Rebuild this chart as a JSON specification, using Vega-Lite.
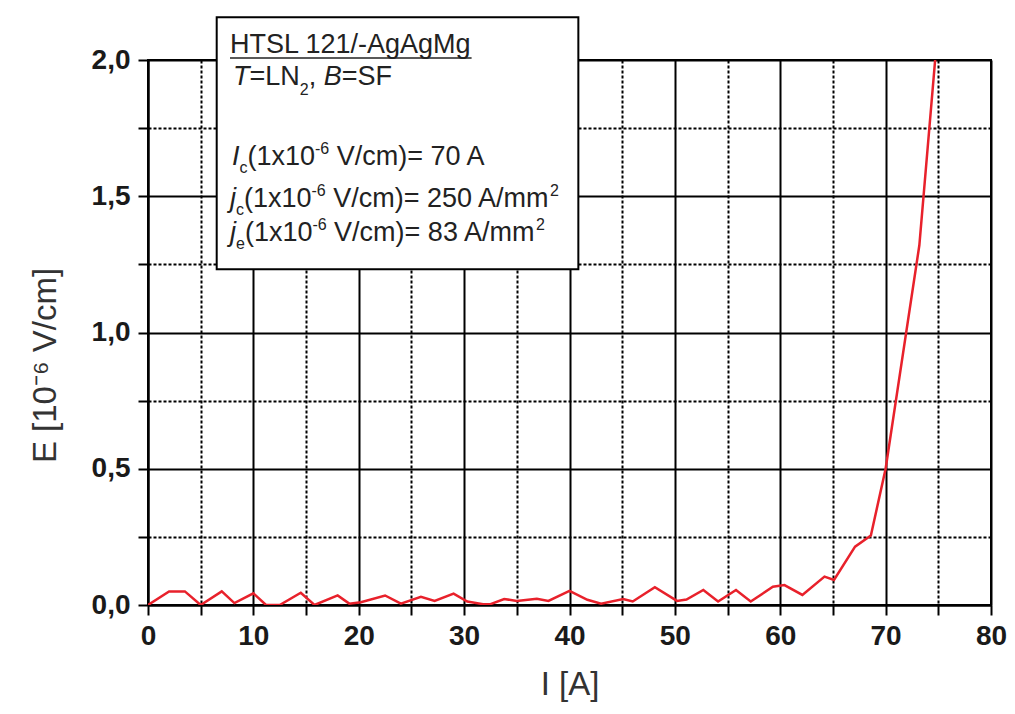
{
  "$schema": "https://vega.github.io/schema/vega-lite/v6.json",
  "width": 843,
  "height": 545,
  "autosize": {"type": "none"},
  "padding": {"left": 148, "top": 60, "right": 24, "bottom": 109},
  "background": "white",
  "config": {
    "view": {"stroke": "black", "strokeWidth": 2},
    "axis": {
      "grid": true,
      "gridColor": "black",
      "gridWidth": 2,
      "gridOpacity": 1,
      "tickColor": "black",
      "tickWidth": 2,
      "tickSize": 10,
      "domainColor": "black",
      "domainWidth": 2,
      "labelFont": "Liberation Sans",
      "labelFontWeight": "bold",
      "labelFontSize": 28,
      "labelColor": "#1a1a1a",
      "labelFlush": false,
      "labelOverlap": false,
      "titleFont": "Liberation Sans",
      "titleFontSize": 33,
      "titleFontWeight": "normal",
      "titleColor": "#333333"
    }
  },
  "datasets": {
    "curve": [
      {"I": 0, "E": 0}, {"I": 2.0, "E": 0.05}, {"I": 3.5, "E": 0.05}, {"I": 5.0, "E": 0.0},
      {"I": 7.0, "E": 0.05}, {"I": 8.2, "E": 0.007}, {"I": 10.0, "E": 0.043}, {"I": 11.2, "E": 0.0},
      {"I": 12.5, "E": 0.0}, {"I": 14.5, "E": 0.045}, {"I": 15.8, "E": 0.0}, {"I": 18.0, "E": 0.035},
      {"I": 19.1, "E": 0.005}, {"I": 20.2, "E": 0.01}, {"I": 22.5, "E": 0.035}, {"I": 24.0, "E": 0.005},
      {"I": 25.9, "E": 0.03}, {"I": 27.2, "E": 0.015}, {"I": 29.0, "E": 0.042}, {"I": 30.3, "E": 0.013},
      {"I": 31.8, "E": 0.003}, {"I": 32.5, "E": 0.003}, {"I": 33.8, "E": 0.022}, {"I": 35.0, "E": 0.015},
      {"I": 36.9, "E": 0.023}, {"I": 38.0, "E": 0.015}, {"I": 40.0, "E": 0.052}, {"I": 41.7, "E": 0.019},
      {"I": 43.0, "E": 0.005}, {"I": 45.1, "E": 0.022}, {"I": 46.0, "E": 0.013}, {"I": 48.1, "E": 0.065},
      {"I": 50.2, "E": 0.015}, {"I": 51.1, "E": 0.02}, {"I": 52.7, "E": 0.055}, {"I": 54.1, "E": 0.013},
      {"I": 55.8, "E": 0.055}, {"I": 57.2, "E": 0.013}, {"I": 59.3, "E": 0.067}, {"I": 60.4, "E": 0.073},
      {"I": 62.1, "E": 0.037}, {"I": 64.2, "E": 0.104}, {"I": 65.1, "E": 0.092}, {"I": 67.1, "E": 0.214},
      {"I": 68.6, "E": 0.255}, {"I": 70.0, "E": 0.5}, {"I": 73.2, "E": 1.32}, {"I": 74.7, "E": 2.0}
    ],
    "box": [{"I": 6.52, "I2": 40.84, "E": 2.157, "E2": 1.232}],
    "underline": [{"I": 7.782, "I2": 30.709, "E": 2.0073}],
    "tn": [
      {"I": 7.782, "E": 2.0257, "t": "HTSL 121/-AgAgMg"},
      {"I": 9.632, "E": 1.9083, "t": "=LN"},
      {"I": 15.25, "E": 1.9083, "t": ","},
      {"I": 18.382, "E": 1.9083, "t": "=SF"},
      {"I": 9.442, "E": 1.6147, "t": "(1x10"},
      {"I": 17.907, "E": 1.6147, "t": "V/cm)= 70 A"},
      {"I": 9.11, "E": 1.4606, "t": "(1x10"},
      {"I": 17.575, "E": 1.4606, "t": "V/cm)= 250 A/mm"},
      {"I": 9.196, "E": 1.3358, "t": "(1x10"},
      {"I": 17.661, "E": 1.3358, "t": "V/cm)= 83 A/mm"}
    ],
    "ti": [
      {"I": 8.066, "E": 1.9083, "t": "T"},
      {"I": 16.674, "E": 1.9083, "t": "B"},
      {"I": 7.972, "E": 1.6147, "t": "I"},
      {"I": 7.782, "E": 1.4606, "t": "j"},
      {"I": 7.782, "E": 1.3358, "t": "j"}
    ],
    "ts": [
      {"I": 14.406, "E": 1.8716, "t": "2"},
      {"I": 8.683, "E": 1.5853, "t": "c"},
      {"I": 15.848, "E": 1.655, "t": "-6"},
      {"I": 8.351, "E": 1.4312, "t": "c"},
      {"I": 15.516, "E": 1.5009, "t": "-6"},
      {"I": 38.149, "E": 1.5009, "t": "2"},
      {"I": 8.351, "E": 1.3064, "t": "e"},
      {"I": 15.601, "E": 1.3761, "t": "-6"},
      {"I": 36.811, "E": 1.3761, "t": "2"}
    ]
  },
  "layer": [
    {
      "data": {"name": "curve"},
      "mark": {"type": "line", "color": "#e8212b", "strokeWidth": 2.5, "clip": true},
      "encoding": {
        "x": {
          "field": "I", "type": "quantitative", "title": "I [A]",
          "scale": {"domain": [0, 80], "nice": false, "zero": false},
          "axis": {
            "values": [0, 5, 10, 15, 20, 25, 30, 35, 40, 45, 50, 55, 60, 65, 70, 75, 80],
            "labelExpr": "datum.value % 10 === 0 ? datum.label : ''",
            "gridDash": {"condition": {"test": "datum.value % 10 !== 0", "value": [3, 2]}, "value": []},
            "labelPadding": 7,
            "titlePadding": 18
          }
        },
        "y": {
          "field": "E", "type": "quantitative", "title": "E [10⁻⁶ V/cm]",
          "scale": {"domain": [0, 2], "nice": false, "zero": false},
          "axis": {
            "values": [0, 0.25, 0.5, 0.75, 1, 1.25, 1.5, 1.75, 2],
            "labelExpr": "datum.value % 0.5 === 0 ? replace(format(datum.value, '.1f'), '.', ',') : ''",
            "gridDash": {"condition": {"test": "datum.value % 0.5 !== 0", "value": [3, 2]}, "value": []},
            "labelPadding": 8,
            "titleX": -103,
            "titleY": 305,
            "titleBaseline": "middle"
          }
        }
      }
    },
    {
      "data": {"name": "box"},
      "mark": {"type": "rect", "fill": "white", "stroke": "black", "strokeWidth": 2},
      "encoding": {
        "x": {"field": "I", "type": "quantitative", "title": "I [A]"},
        "x2": {"field": "I2"},
        "y": {"field": "E", "type": "quantitative", "title": "E [10⁻⁶ V/cm]"},
        "y2": {"field": "E2"}
      }
    },
    {
      "data": {"name": "underline"},
      "mark": {"type": "rule", "color": "#222222", "strokeWidth": 1.5},
      "encoding": {
        "x": {"field": "I", "type": "quantitative", "title": "I [A]"},
        "x2": {"field": "I2"},
        "y": {"field": "E", "type": "quantitative", "title": "E [10⁻⁶ V/cm]"}
      }
    },
    {
      "data": {"name": "tn"},
      "mark": {"type": "text", "align": "left", "baseline": "alphabetic", "font": "Liberation Sans", "fontSize": 27, "color": "#222222"},
      "encoding": {
        "x": {"field": "I", "type": "quantitative", "title": "I [A]"},
        "y": {"field": "E", "type": "quantitative", "title": "E [10⁻⁶ V/cm]"},
        "text": {"field": "t"}
      }
    },
    {
      "data": {"name": "ti"},
      "mark": {"type": "text", "align": "left", "baseline": "alphabetic", "font": "Liberation Sans", "fontStyle": "italic", "fontSize": 27, "color": "#222222"},
      "encoding": {
        "x": {"field": "I", "type": "quantitative", "title": "I [A]"},
        "y": {"field": "E", "type": "quantitative", "title": "E [10⁻⁶ V/cm]"},
        "text": {"field": "t"}
      }
    },
    {
      "data": {"name": "ts"},
      "mark": {"type": "text", "align": "left", "baseline": "alphabetic", "font": "Liberation Sans", "fontSize": 16, "color": "#222222"},
      "encoding": {
        "x": {"field": "I", "type": "quantitative", "title": "I [A]"},
        "y": {"field": "E", "type": "quantitative", "title": "E [10⁻⁶ V/cm]"},
        "text": {"field": "t"}
      }
    }
  ]
}
